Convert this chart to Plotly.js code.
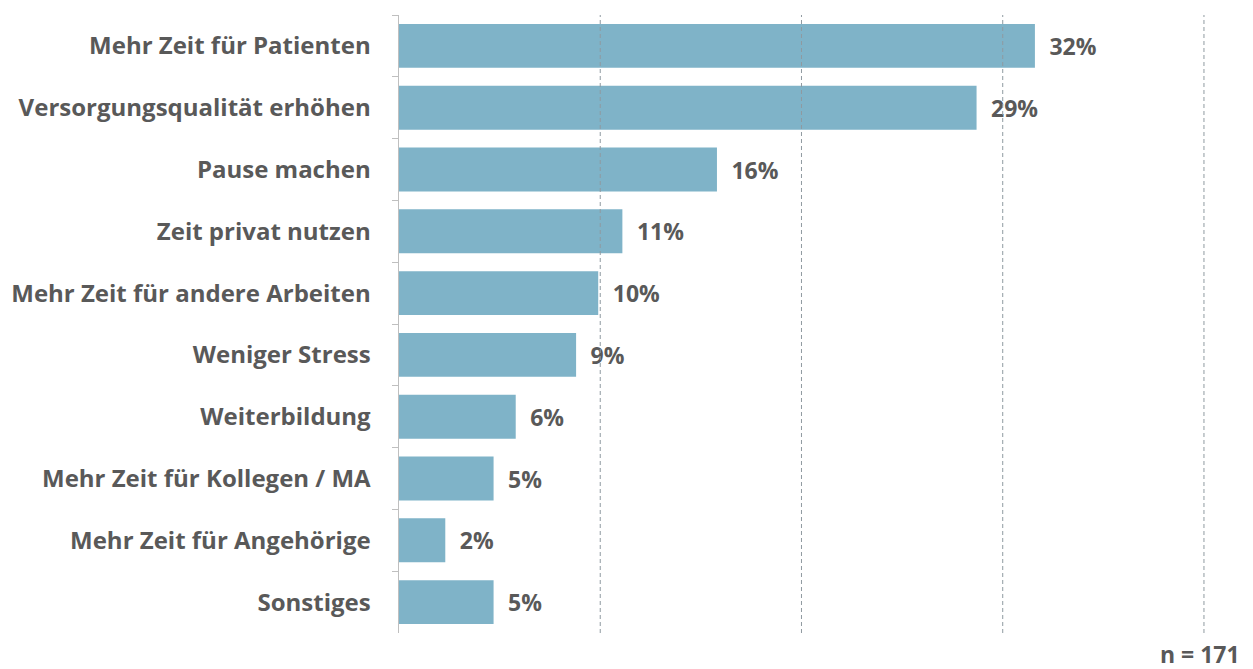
<!DOCTYPE html>
<html>
<head>
<meta charset="utf-8">
<script src="https://cdn.plot.ly/plotly-3.0.1.min.js"></script>
<style>html,body{margin:0;padding:0;background:#fff;}#chart{width:1253px;height:669px;}</style>
</head>
<body>
<div id="chart"></div>
<script>
const categories = [
  "Mehr Zeit für Patienten",
  "Versorgungsqualität erhöhen",
  "Pause machen",
  "Zeit privat nutzen",
  "Mehr Zeit für andere Arbeiten",
  "Weniger Stress",
  "Weiterbildung",
  "Mehr Zeit für Kollegen / MA",
  "Mehr Zeit für Angehörige",
  "Sonstiges"
];
const values = [31.6, 28.7, 15.8, 11.1, 9.9, 8.8, 5.8, 4.7, 2.3, 4.7];
const gridTicks = [10, 20, 30, 40];
const noteText = "n = 171";

const fontFam = "'Open Sans', sans-serif";
const grey = "#595959";

const trace = {
  type: "bar",
  orientation: "h",
  y: categories,
  x: values,
  marker: {color: "#7fb3c8", line: {width: 0}},
  text: values.map(v => "\u2002" + Math.round(v) + "%"),
  textposition: "outside",
  cliponaxis: false,
  textfont: {family: fontFam, size: 23, color: grey, weight: 700},
  hoverinfo: "none"
};

const gridShapes = gridTicks.map(t => ({
  type: "line", layer: "above",
  xref: "x", yref: "paper",
  x0: t, x1: t, y0: 0, y1: 1,
  line: {color: "#8f9aa0", width: 1, dash: "4px,3px"}
}));

const layout = {
  width: 1253, height: 669,
  margin: {l: 399, r: 43, t: 15, b: 36},
  paper_bgcolor: "#fff", plot_bgcolor: "#fff",
  bargap: 0.29,
  showlegend: false,
  font: {family: fontFam, color: grey},
  xaxis: {
    range: [0, 40.3],
    showticklabels: false,
    ticks: "",
    showgrid: false,
    zeroline: false,
    showline: false,
    fixedrange: true
  },
  yaxis: {
    autorange: "reversed",
    showline: true,
    linecolor: "#bfbfbf",
    linewidth: 1.5,
    ticks: "outside",
    tickson: "boundaries",
    ticklen: 6,
    tickcolor: "#bfbfbf",
    ticklabelstandoff: 22,
    tickfont: {family: fontFam, size: 24, color: grey, weight: 700},
    showgrid: false,
    zeroline: false,
    fixedrange: true
  },
  shapes: gridShapes,
  annotations: [{
    text: noteText,
    xref: "paper", yref: "paper",
    x: 1.039, y: -0.034,
    xanchor: "right", yanchor: "middle",
    showarrow: false,
    font: {family: fontFam, size: 23, color: grey, weight: 700}
  }]
};

Plotly.newPlot("chart", [trace], layout, {displayModeBar: false, staticPlot: true});
</script>
</body>
</html>
